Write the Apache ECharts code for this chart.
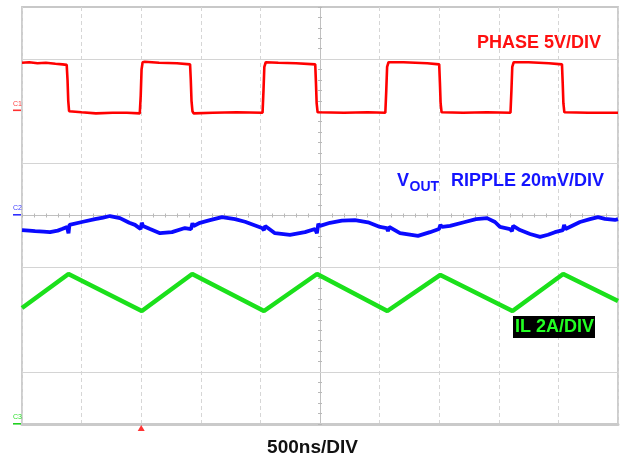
<!DOCTYPE html>
<html>
<head>
<meta charset="utf-8">
<script src="https://cdn.jsdelivr.net/npm/echarts@6/dist/echarts.min.js"></script>
<style>
html,body{margin:0;padding:0;background:#fff;}
#c{width:621px;height:461px;}
</style>
</head>
<body>
<div id="c"></div>
<script>
// time in ns (500 ns/div, 10 div), amplitude in screen divisions (0..8 from bottom)
const X_TICKS = [0,500,1000,1500,2000,2500,3000,3500,4000,4500,5000];
const GRID_Y = [1,3,5,7];
const TRIGGER_NS = 1000;

const PHASE = [
[0,6.93],[60,6.94],[130,6.92],[200,6.93],[280,6.91],[340,6.9],[375,6.89],[382,6.6],[388,6.2],[395,6.0],[405,5.97],[500,5.98],[620,5.96],[760,5.97],[880,5.97],[988,5.96],
[996,6.3],[1003,6.8],[1012,6.94],[1030,6.95],[1150,6.93],[1300,6.92],[1410,6.9],[1416,6.6],[1422,6.2],[1430,6.0],[1440,5.96],[1600,5.97],[1800,5.98],[2018,5.97],
[2026,6.4],[2033,6.85],[2045,6.94],[2150,6.93],[2300,6.92],[2460,6.9],[2466,6.55],[2472,6.15],[2480,5.98],[2490,5.96],[2700,5.97],[2900,5.98],[3048,5.97],
[3056,6.4],[3063,6.85],[3075,6.94],[3200,6.94],[3400,6.92],[3500,6.9],[3506,6.55],[3512,6.15],[3520,5.98],[3530,5.96],[3700,5.97],[3900,5.98],[4098,5.97],
[4106,6.4],[4113,6.85],[4125,6.94],[4250,6.94],[4420,6.92],[4530,6.9],[4536,6.55],[4542,6.15],[4550,5.98],[4560,5.96],[4750,5.97],[5000,5.97]
];

const VOUT = [
[0,3.72],[60,3.71],[110,3.70],[180,3.69],[235,3.68],[300,3.71],[336,3.74],[378,3.78],[390,3.66],[398,3.82],[411,3.80],[503,3.875],[612,3.93],[680,3.96],[738,3.99],[822,3.95],[900,3.86],[948,3.82],[995,3.74],[1005,3.86],[1015,3.80],[1074,3.74],[1158,3.66],[1258,3.68],[1367,3.76],[1418,3.74],[1430,3.85],[1440,3.80],[1493,3.86],[1577,3.91],[1678,3.97],[1787,3.93],[1871,3.88],[2013,3.76],[2030,3.72],[2040,3.80],[2122,3.66],[2248,3.63],[2374,3.68],[2458,3.74],[2474,3.66],[2486,3.84],[2500,3.80],[2584,3.86],[2684,3.90],[2793,3.91],[2903,3.87],[3003,3.78],[3060,3.76],[3070,3.70],[3080,3.78],[3171,3.66],[3322,3.61],[3423,3.68],[3498,3.74],[3510,3.82],[3525,3.78],[3591,3.80],[3716,3.875],[3809,3.93],[3901,3.95],[3968,3.875],[4010,3.78],[4094,3.74],[4111,3.70],[4120,3.80],[4178,3.72],[4262,3.645],[4346,3.59],[4413,3.63],[4471,3.68],[4538,3.72],[4548,3.82],[4560,3.74],[4681,3.875],[4765,3.93],[4832,3.97],[4891,3.935],[4975,3.914],[5000,3.93]
];

const IL = [[0,2.225],[390,2.878],[1005,2.168],[1428,2.878],[2030,2.168],[2475,2.878],[3065,2.168],[3510,2.86],[4115,2.168],[4540,2.878],[5000,2.36]];

const FONT = '"Liberation Sans", Arial, sans-serif';
const chart = echarts.init(document.getElementById('c'), null, {renderer:'canvas'});

const hidden = {axisLabel:{show:false}, splitLine:{show:false}};
const option = {
  animation:false,
  backgroundColor:'#ffffff',
  grid:{left:22, right:3, top:7, bottom:37, show:true, borderColor:'#c8c8c8', borderWidth:1.8},
  xAxis:[
    {type:'value', min:0, max:5000, interval:500, axisLabel:{show:false}, axisTick:{show:false},
     axisLine:{show:true, onZero:false, lineStyle:{color:'#cacaca', width:3}},
     splitLine:{show:true, lineStyle:{color:'#d6d6d6', type:[4,3], width:1}}},
    Object.assign({type:'value', min:-2500, max:2500, interval:500, position:'bottom',
     axisLine:{show:true, onZero:true, onZeroAxisIndex:1, lineStyle:{color:'#c0c0c0', width:1}},
     axisTick:{show:true, inside:true, length:2, lineStyle:{color:'#b8b8b8'}},
     minorTick:{show:true, splitNumber:5, length:2, lineStyle:{color:'#b8b8b8'}}}, hidden),
    Object.assign({type:'value', min:-2500, max:2500, interval:500, position:'bottom',
     axisLine:{show:false, onZero:true, onZeroAxisIndex:1},
     axisTick:{show:true, inside:false, length:2, lineStyle:{color:'#b8b8b8'}},
     minorTick:{show:true, splitNumber:5, length:2, lineStyle:{color:'#b8b8b8'}}}, hidden)
  ],
  yAxis:[
    {type:'value', min:0, max:8, interval:1, axisLabel:{show:false}, axisTick:{show:false}, axisLine:{show:false}, splitLine:{show:false}},
    Object.assign({type:'value', min:-4, max:4, interval:1, position:'left',
     axisLine:{show:true, onZero:true, onZeroAxisIndex:1, lineStyle:{color:'#c0c0c0', width:1}},
     axisTick:{show:true, inside:true, length:2, lineStyle:{color:'#b8b8b8'}},
     minorTick:{show:true, splitNumber:5, length:2, lineStyle:{color:'#b8b8b8'}}}, hidden),
    Object.assign({type:'value', min:-4, max:4, interval:1, position:'left',
     axisLine:{show:false, onZero:true, onZeroAxisIndex:1},
     axisTick:{show:true, inside:false, length:2, lineStyle:{color:'#b8b8b8'}},
     minorTick:{show:true, splitNumber:5, length:2, lineStyle:{color:'#b8b8b8'}}}, hidden)
  ],
  series:[
    {name:'grid', type:'line', data:[], xAxisIndex:0, yAxisIndex:0, silent:true, z:1,
     markLine:{silent:true, symbol:'none', label:{show:false}, animation:false,
       lineStyle:{color:'#d4d4d4', type:'solid', width:1},
       data:GRID_Y.map(v=>({yAxis:v}))}},
    {name:'PHASE', type:'line', data:PHASE, showSymbol:false, symbol:'none', clip:true, z:3,
     lineStyle:{color:'#ff0000', width:2.6}},
    {name:'VOUT', type:'line', data:VOUT, showSymbol:false, symbol:'none', clip:true, z:3,
     lineStyle:{color:'#0a0aff', width:3.8}},
    {name:'IL', type:'line', data:IL, showSymbol:false, symbol:'none', clip:true, z:3,
     lineStyle:{color:'#1be01b', width:4.5}},
    {name:'trigger', type:'scatter', data:[[TRIGGER_NS,0]], symbol:'triangle', symbolSize:[7,6], symbolOffset:[0,4],
     clip:false, itemStyle:{color:'#ff0000'}, z:5, silent:true}
  ],
  graphic:[
    {type:'text', z:100, x:477, y:43, style:{text:'PHASE 5V/DIV', fill:'#ff1010', font:'bold 18px '+FONT, verticalAlign:'middle'}},
    {type:'text', z:100, x:397, y:181, style:{text:'V', fill:'#1414ff', font:'bold 18px '+FONT, verticalAlign:'middle'}},
    {type:'text', z:100, x:409.5, y:187.5, style:{text:'OUT', fill:'#1414ff', font:'bold 14px '+FONT, verticalAlign:'middle'}},
    {type:'text', z:100, x:451, y:181, style:{text:'RIPPLE 20mV/DIV', fill:'#1414ff', font:'bold 18px '+FONT, verticalAlign:'middle'}},
    {type:'rect', z:100, shape:{x:513, y:316, width:82, height:22}, style:{fill:'#000000'}},
    {type:'text', z:101, x:515, y:327.5, style:{text:'IL 2A/DIV', fill:'#22ff22', font:'bold 18px '+FONT, verticalAlign:'middle'}},
    {type:'text', z:100, x:312.5, y:447.5, style:{text:'500ns/DIV', fill:'#111111', font:'bold 19px '+FONT, align:'center', verticalAlign:'middle'}},
    {type:'text', z:100, x:13, y:101, style:{text:'C1', fill:'#ff4040', font:'7px '+FONT}},
    {type:'rect', z:100, shape:{x:13, y:109.5, width:8, height:1.6}, style:{fill:'#ff3030'}},
    {type:'text', z:100, x:13, y:205, style:{text:'C2', fill:'#4040ff', font:'7px '+FONT}},
    {type:'rect', z:100, shape:{x:13, y:214, width:8, height:1.6}, style:{fill:'#3030ff'}},
    {type:'text', z:100, x:13, y:414, style:{text:'C3', fill:'#30e030', font:'7px '+FONT}},
    {type:'rect', z:100, shape:{x:13, y:423, width:8, height:1.6}, style:{fill:'#20d020'}}
  ]
};
chart.setOption(option);
</script>
</body>
</html>
